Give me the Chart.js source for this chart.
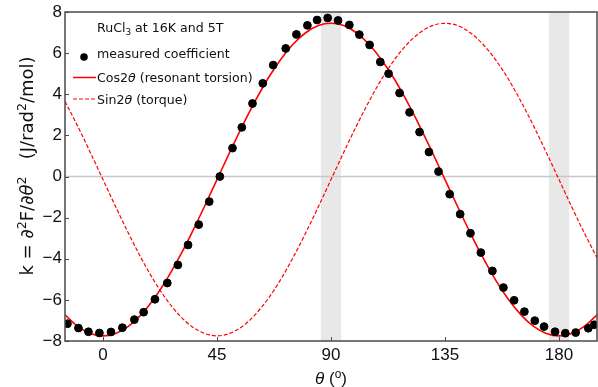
<!DOCTYPE html>
<html>
<head>
<meta charset="utf-8">
<script src="https://cdn.jsdelivr.net/npm/chart.js@4.4.1/dist/chart.umd.min.js"></script>
<style>
html,body{margin:0;padding:0;background:#fff;}
#wrap{width:598px;height:387px;position:relative;}
</style>
</head>
<body>
<div id="wrap"><canvas id="c" width="598" height="387"></canvas></div>
<script>
// ---- data ----
const measuredTheta = [-14.03,-9.70,-5.75,-1.42,3.15,7.65,12.38,16.04,20.50,25.38,29.56,33.58,37.80,41.94,46.12,51.12,54.79,59.01,63.07,67.17,72.13,76.35,80.69,84.51,88.69,92.79,97.24,101.18,105.24,109.46,112.73,117.07,121.01,124.95,128.66,132.44,136.85,140.99,145.05,149.15,153.72,158.06,162.28,166.34,170.44,174.10,178.44,182.50,186.60,191.56,193.93];
const measuredK = [-7.16,-7.37,-7.55,-7.61,-7.56,-7.35,-6.96,-6.60,-5.97,-5.18,-4.30,-3.33,-2.34,-1.22,0.00,1.38,2.39,3.55,4.53,5.42,6.23,6.91,7.35,7.61,7.71,7.59,7.37,6.90,6.40,5.57,5.00,4.06,3.12,2.16,1.19,0.24,-0.86,-1.83,-2.76,-3.70,-4.59,-5.40,-6.02,-6.57,-7.01,-7.30,-7.55,-7.62,-7.59,-7.38,-7.21];
const curveTheta = [-15,-10,-5,0,5,10,15,20,25,30,35,40,45,50,55,60,65,70,75,80,85,90,95,100,105,110,115,120,125,130,135,140,145,150,155,160,165,170,175,180,185,190,195];
const cosCurve = [-6.73,-7.29,-7.63,-7.75,-7.63,-7.29,-6.73,-5.97,-5.04,-3.95,-2.75,-1.47,-0.15,1.17,2.45,3.65,4.74,5.67,6.43,6.99,7.34,7.45,7.34,6.99,6.43,5.67,4.74,3.65,2.45,1.17,-0.15,-1.47,-2.75,-3.95,-5.04,-5.97,-6.73,-7.29,-7.63,-7.75,-7.63,-7.29,-6.73];
const sinCurve = [3.65,2.45,1.17,-0.15,-1.47,-2.75,-3.95,-5.04,-5.97,-6.73,-7.29,-7.63,-7.75,-7.63,-7.29,-6.73,-5.97,-5.04,-3.95,-2.75,-1.47,-0.15,1.17,2.45,3.65,4.74,5.67,6.43,6.99,7.34,7.45,7.34,6.99,6.43,5.67,4.74,3.65,2.45,1.17,-0.15,-1.47,-2.75,-3.95];
const xTickValues = [0,45,90,135,180];
const yTickValues = [-8,-6,-4,-2,0,2,4,6,8];
const bandStarts = [86,176];
const bandEnds = [94,184];
const legendTitle = "RuCl3 at 16K and 5T";
const seriesLabels = ["measured coefficient","Cos2θ (resonant torsion)","Sin2θ (torque)"];
// ---------------------------------------

const SANS = '"Liberation Sans", Arial, sans-serif';
const LEG = '"DejaVu Sans", Verdana, sans-serif';

function drawRich(ctx, segs, x, y, size, family, align) {
  let total = 0;
  const measured = segs.map(s => {
    const sz = (s.sup || s.sub) ? size * 0.7 : size;
    ctx.font = (s.it ? 'italic ' : '') + sz + 'px ' + family;
    const w = ctx.measureText(s.t).width;
    total += w;
    return {s, sz, w};
  });
  let cx = align === 'center' ? x - total / 2 : x;
  ctx.textBaseline = 'alphabetic';
  ctx.textAlign = 'left';
  measured.forEach(m => {
    ctx.font = (m.s.it ? 'italic ' : '') + m.sz + 'px ' + family;
    let dy = 0;
    if (m.s.sup) dy = -size * 0.38;
    if (m.s.sub) dy = size * 0.22;
    ctx.fillText(m.s.t, cx, y + dy);
    cx += m.w;
  });
}

function richFromLabel(label) {
  const segs = [];
  let buf = '';
  for (const ch of label) {
    if (ch === 'θ') { if (buf) segs.push({t: buf}); buf = ''; segs.push({t: 'θ', it: true}); }
    else buf += ch;
  }
  if (buf) segs.push({t: buf});
  return segs;
}

function richTitle(label) {
  const m = label.match(/^(.*Cl)(\d)(.*)$/);
  if (!m) return [{t: label}];
  return [{t: m[1]}, {t: m[2], sub: true}, {t: m[3]}];
}

const decorPlugin = {
  id: 'decor',
  beforeDatasetsDraw(chart) {
    const {ctx, chartArea: a, scales: {x, y}} = chart;
    ctx.save();
    ctx.fillStyle = '#e8e8e8';
    for (let i = 0; i < bandStarts.length; i++) {
      const x0 = x.getPixelForValue(bandStarts[i]);
      const x1 = x.getPixelForValue(bandEnds[i]);
      ctx.fillRect(x0, a.top, x1 - x0, a.bottom - a.top);
    }
    const y0 = y.getPixelForValue(0);
    ctx.strokeStyle = '#c8c8c8';
    ctx.lineWidth = 1.5;
    ctx.beginPath(); ctx.moveTo(a.left, y0); ctx.lineTo(a.right, y0); ctx.stroke();
    ctx.restore();
  },
  afterDraw(chart) {
    const {ctx, chartArea: a, scales: {x, y}} = chart;
    ctx.save();
    ctx.strokeStyle = '#4a4a4a';
    ctx.lineWidth = 1.5;
    ctx.strokeRect(a.left, a.top, a.right - a.left, a.bottom - a.top);
    ctx.lineWidth = 1;
    ctx.beginPath();
    xTickValues.forEach(v => { const px = Math.round(x.getPixelForValue(v)) + 0.5; ctx.moveTo(px, a.bottom); ctx.lineTo(px, a.bottom - 4); });
    yTickValues.forEach(v => { const py = Math.round(y.getPixelForValue(v)) + 0.5; ctx.moveTo(a.left, py); ctx.lineTo(a.left + 4, py); });
    ctx.stroke();

    // legend
    const FS = 12.6;
    ctx.fillStyle = '#111';
    const lx = a.left + 32;
    drawRich(ctx, richTitle(legendTitle), lx, 32, FS, LEG);
    ctx.beginPath(); ctx.arc(a.left + 19, 57, 3.8, 0, Math.PI * 2); ctx.fillStyle = '#000'; ctx.fill();
    ctx.fillStyle = '#111';
    drawRich(ctx, richFromLabel(seriesLabels[0]), lx, 58, FS, LEG);
    ctx.strokeStyle = '#ff0000'; ctx.lineWidth = 1.5;
    ctx.beginPath(); ctx.moveTo(a.left + 8, 77.5); ctx.lineTo(a.left + 31, 77.5); ctx.stroke();
    drawRich(ctx, richFromLabel(seriesLabels[1]), lx, 82, FS, LEG);
    ctx.setLineDash([4, 2]); ctx.lineWidth = 1.2;
    ctx.beginPath(); ctx.moveTo(a.left + 8, 99); ctx.lineTo(a.left + 31, 99); ctx.stroke();
    ctx.setLineDash([]);
    drawRich(ctx, richFromLabel(seriesLabels[2]), lx, 104, FS, LEG);

    // x title
    ctx.fillStyle = '#111';
    drawRich(ctx, [{t: 'θ', it: true}, {t: ' ('}, {t: 'o', sup: true}, {t: ')'}], (a.left + a.right) / 2, 384, 17, SANS, 'center');
    // y title
    ctx.translate(33, 166);
    ctx.rotate(-Math.PI / 2);
    drawRich(ctx, [{t: 'k = '}, {t: '∂', it: true}, {t: '2', sup: true}, {t: 'F/'}, {t: '∂θ', it: true}, {t: '2', sup: true}, {t: '   (J/rad'}, {t: '2', sup: true}, {t: '/mol)'}], 0, 0, 18, LEG, 'center');
    ctx.restore();
  }
};

new Chart(document.getElementById('c'), {
  type: 'scatter',
  data: {
    datasets: [
      {
        label: seriesLabels[0],
        data: measuredTheta.map((t, i) => ({x: t, y: measuredK[i]})),
        backgroundColor: '#000', borderColor: '#000',
        pointRadius: 3.9, pointHoverRadius: 3.9, showLine: false
      },
      {
        label: seriesLabels[1],
        data: curveTheta.map((t, i) => ({x: t, y: cosCurve[i]})),
        borderColor: '#ff0000', borderWidth: 1.6, pointRadius: 0,
        showLine: true, cubicInterpolationMode: 'monotone', fill: false
      },
      {
        label: seriesLabels[2],
        data: curveTheta.map((t, i) => ({x: t, y: sinCurve[i]})),
        borderColor: '#ff0000', borderWidth: 1.2, borderDash: [4, 2], pointRadius: 0,
        showLine: true, cubicInterpolationMode: 'monotone', fill: false
      }
    ]
  },
  options: {
    responsive: false,
    animation: false,
    events: [],
    layout: {autoPadding: false, padding: {top: 12, right: 1, left: 0, bottom: 0}},
    plugins: {legend: {display: false}, tooltip: {enabled: false}},
    scales: {
      x: {
        type: 'linear', min: -15, max: 195,
        afterBuildTicks: s => { s.ticks = xTickValues.map(v => ({value: v})); },
        afterFit: s => { s.height = 46; s.paddingLeft = 0; s.paddingRight = 0; },
        grid: {display: false, drawTicks: false},
        border: {display: false},
        ticks: {color: '#111', font: {family: SANS, size: 17}, padding: 4, maxRotation: 0}
      },
      y: {
        type: 'linear', min: -8, max: 8,
        afterBuildTicks: s => { s.ticks = yTickValues.map(v => ({value: v})); },
        afterFit: s => { s.width = 65; s.paddingTop = 0; s.paddingBottom = 0; },
        grid: {display: false, drawTicks: false},
        border: {display: false},
        ticks: {color: '#111', font: {family: SANS, size: 17}, padding: 3,
          callback: v => String(v).replace('-', '\u2212')}
      }
    }
  },
  plugins: [decorPlugin]
});
</script>
</body>
</html>
